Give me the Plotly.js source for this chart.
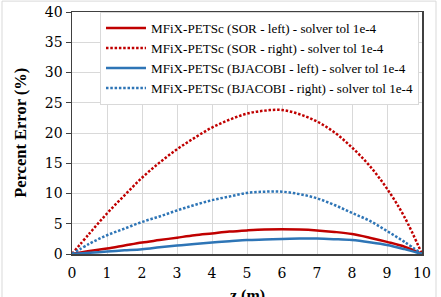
<!DOCTYPE html>
<html>
<head>
<meta charset="utf-8">
<script src="https://cdn.plot.ly/plotly-3.0.1.min.js"></script>
<style>html,body{margin:0;padding:0;background:#fff;}#chart{width:441px;height:297px;}</style>
</head>
<body>
<div id="chart"></div>
<script>
var zPos = [0,0.5,1,1.5,2,2.5,3,3.5,4,4.5,5,5.5,6,6.5,7,7.5,8,8.5,9,9.5,10];
var sorLeft = [0,0.5,0.9,1.4,1.9,2.3,2.7,3.1,3.4,3.7,3.9,4.05,4.1,4.05,3.9,3.65,3.3,2.7,2.0,1.2,0];
var sorRight = [0,3.4,6.7,9.7,12.6,15.1,17.3,19.2,20.9,22.2,23.2,23.7,23.8,23.1,21.9,20.1,17.6,14.6,10.8,6.1,0];
var bjLeft = [0,0.2,0.4,0.6,0.8,1.1,1.4,1.65,1.9,2.1,2.3,2.4,2.5,2.55,2.55,2.45,2.3,1.95,1.5,0.8,0];
var bjRight = [0,1.7,3.1,4.2,5.3,6.2,7.2,8.1,8.9,9.5,10.1,10.3,10.3,9.9,9.2,8.1,6.8,5.5,3.8,2.0,0];
var seriesNames = [
  "MFiX-PETSc (SOR - left) - solver tol 1e-4",
  "MFiX-PETSc (SOR - right) - solver tol 1e-4",
  "MFiX-PETSc (BJACOBI - left) - solver tol 1e-4",
  "MFiX-PETSc (BJACOBI - right) - solver tol 1e-4"
];
var xTicks = [0,1,2,3,4,5,6,7,8,9,10];
var yTicks = [0,5,10,15,20,25,30,35,40];
var xTitle = "z (m)";
var yTitle = "Percent Error (%)";

var red = "#C00000", blue = "#2E75B6";
var dotDash = "2.5px,1.8px";
var traces = [
  {x: zPos, y: sorLeft, name: seriesNames[0], line: {color: red, width: 2.5, shape: "spline"}},
  {x: zPos, y: sorRight, name: seriesNames[1], line: {color: red, width: 2.5, dash: dotDash, shape: "spline"}},
  {x: zPos, y: bjLeft, name: seriesNames[2], line: {color: blue, width: 2.5, shape: "spline"}},
  {x: zPos, y: bjRight, name: seriesNames[3], line: {color: blue, width: 2.5, dash: dotDash, shape: "spline"}}
].map(function(t){ t.type = "scatter"; t.mode = "lines"; return t; });

var serif = "'Liberation Serif', 'DejaVu Serif', serif";
var tickSerif = "'DejaVu Serif', serif";
var layout = {
  width: 441, height: 297,
  margin: {l: 72, r: 19, t: 12, b: 43},
  paper_bgcolor: "#fff", plot_bgcolor: "#fff",
  showlegend: true,
  legend: {
    x: 0.08, y: 1.0, xanchor: "left", yanchor: "top",
    bgcolor: "#fff", bordercolor: "#d9d9d9", borderwidth: 1,
    font: {family: serif, size: 13.1, color: "#000"},
    itemwidth: 40, tracegroupgap: 0
  },
  xaxis: {
    range: [0, 10], tickvals: xTicks, ticktext: xTicks.map(String),
    showgrid: true, gridcolor: "#d9d9d9", gridwidth: 1,
    showline: true, linecolor: "#404040", linewidth: 1.5, mirror: true,
    ticks: "outside", ticklen: 6, tickcolor: "rgba(0,0,0,0)", zeroline: false,
    tickfont: {family: tickSerif, size: 14, color: "#000"}
  },
  yaxis: {
    range: [0, 40], tickvals: yTicks, ticktext: yTicks.map(String),
    showgrid: true, gridcolor: "#d9d9d9", gridwidth: 1,
    showline: true, linecolor: "#404040", linewidth: 1.5, mirror: true,
    ticks: "outside", ticklen: 5, tickcolor: "#404040", zeroline: false,
    tickfont: {family: tickSerif, size: 14, color: "#000"}
  },
  annotations: [
    {text: "<b>" + xTitle + "</b>", xref: "paper", yref: "paper", x: 0.5, y: -0.172,
     xanchor: "center", yanchor: "middle", showarrow: false,
     font: {family: serif, size: 16, color: "#000"}},
    {text: "<b>" + yTitle + "</b>", xref: "paper", yref: "paper", x: -0.149, y: 0.5,
     xanchor: "center", yanchor: "middle", textangle: -90, showarrow: false,
     font: {family: serif, size: 16.5, color: "#000"}}
  ],
  shapes: [{
    type: "rect", xref: "paper", yref: "paper",
    x0: -0.2, x1: 1.04, y0: -0.25, y1: 1.045,
    line: {color: "#d9d9d9", width: 1}, fillcolor: "rgba(0,0,0,0)", layer: "below"
  }]
};
Plotly.newPlot("chart", traces, layout, {displayModeBar: false, staticPlot: true});
</script>
</body>
</html>
